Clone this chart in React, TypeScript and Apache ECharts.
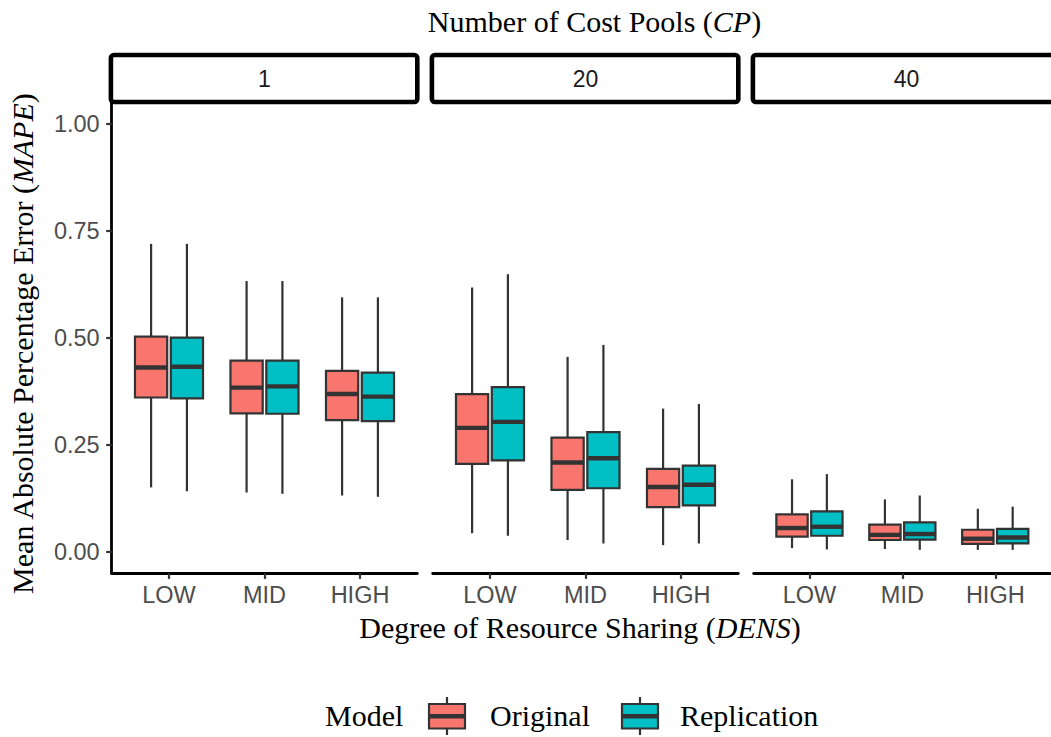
import React, { useEffect, useRef } from "react";
import * as echarts from "echarts";

// Facet levels, x categories and models
const cpLevels = ["1", "20", "40"];
const densLevels = ["LOW", "MID", "HIGH"];
const modelNames = ["Original", "Replication"];
const modelColors = ["#F8766D", "#00BFC4"];

// Box statistics per DENS level (LOW, MID, HIGH):
// [lower whisker, Q1, median, Q3, upper whisker]
const originalCP1 = [
  [0.151, 0.361, 0.431, 0.503, 0.72],
  [0.139, 0.324, 0.384, 0.447, 0.633],
  [0.132, 0.308, 0.369, 0.423, 0.595],
];
const replicationCP1 = [
  [0.142, 0.359, 0.433, 0.501, 0.72],
  [0.136, 0.323, 0.387, 0.447, 0.633],
  [0.129, 0.306, 0.363, 0.419, 0.595],
];
const originalCP20 = [
  [0.044, 0.206, 0.29, 0.369, 0.618],
  [0.028, 0.145, 0.209, 0.267, 0.456],
  [0.016, 0.105, 0.152, 0.194, 0.335],
];
const replicationCP20 = [
  [0.038, 0.214, 0.304, 0.385, 0.649],
  [0.02, 0.149, 0.219, 0.28, 0.484],
  [0.02, 0.109, 0.157, 0.202, 0.346],
];
const originalCP40 = [
  [0.009, 0.036, 0.056, 0.088, 0.17],
  [0.007, 0.028, 0.04, 0.064, 0.123],
  [0.005, 0.019, 0.031, 0.052, 0.101],
];
const replicationCP40 = [
  [0.006, 0.038, 0.059, 0.095, 0.182],
  [0.005, 0.029, 0.042, 0.069, 0.132],
  [0.005, 0.02, 0.034, 0.054, 0.106],
];

const yTicks = [0, 0.25, 0.5, 0.75, 1];

const panelStats = [
  [originalCP1, replicationCP1],
  [originalCP20, replicationCP20],
  [originalCP40, replicationCP40],
];

const SERIF = "'Liberation Serif', 'Times New Roman', serif";
const SANS = "'Liberation Sans', Arial, sans-serif";
const INK = "#333333";
const TITLE_SIZE = 30;

const PANEL_LEFT = [111.7, 432.7, 753.7];
const PANEL_TOP = 102.6;
const PANEL_W = 305.6;
const PANEL_H = 470.8;

const DODGE = 0.1875;
const BOX_HALF = 0.16875;

function makeRenderItem(offset: number, color: string) {
  return (_params: any, api: any) => {
    const x = api.value(0) + offset;
    const lo = api.value(1);
    const q1 = api.value(2);
    const med = api.value(3);
    const q3 = api.value(4);
    const hi = api.value(5);
    const tl = api.coord([x - BOX_HALF, q3]);
    const br = api.coord([x + BOX_HALF, q1]);
    const top = api.coord([x, hi]);
    const bot = api.coord([x, lo]);
    const mid = api.coord([x, med]);
    const cx = top[0];
    const lineStyle = { stroke: INK, lineWidth: 2.2, lineCap: "butt" };
    return {
      type: "group",
      children: [
        { type: "line", shape: { x1: cx, y1: top[1], x2: cx, y2: tl[1] }, style: lineStyle },
        { type: "line", shape: { x1: cx, y1: br[1], x2: cx, y2: bot[1] }, style: lineStyle },
        {
          type: "rect",
          shape: { x: tl[0], y: tl[1], width: br[0] - tl[0], height: br[1] - tl[1] },
          style: { fill: color, stroke: INK, lineWidth: 2.2 },
        },
        {
          type: "line",
          shape: { x1: tl[0], y1: mid[1], x2: br[0], y2: mid[1] },
          style: { stroke: INK, lineWidth: 4.4, lineCap: "butt" },
        },
      ],
    };
  };
}

function legendKey(cx: number, color: string) {
  return {
    type: "group",
    children: [
      { type: "line", shape: { x1: cx, y1: 697, x2: cx, y2: 735 }, style: { stroke: INK, lineWidth: 2.2 } },
      {
        type: "rect",
        shape: { x: cx - 18, y: 704, width: 36, height: 24.5 },
        style: { fill: color, stroke: INK, lineWidth: 2.2 },
      },
      { type: "line", shape: { x1: cx - 18, y1: 716.2, x2: cx + 18, y2: 716.2 }, style: { stroke: INK, lineWidth: 4.4 } },
    ],
  };
}

export default function App() {
  const ref = useRef<HTMLDivElement>(null);

  useEffect(() => {
    if (!ref.current) return;
    const chart = echarts.init(ref.current, undefined, { renderer: "svg" });

    const grids = cpLevels.map((_, i) => ({
      left: PANEL_LEFT[i],
      top: PANEL_TOP,
      width: PANEL_W,
      height: PANEL_H,
      containLabel: false,
    }));

    const xAxes = cpLevels.map((_, i) => ({
      type: "value",
      gridIndex: i,
      min: 0.4,
      max: 3.6,
      splitLine: { show: false },
      axisLine: { show: true, onZero: false, lineStyle: { color: "#000000", width: 2.8 } },
      axisTick: {
        show: true,
        customValues: [1, 2, 3],
        length: 5.5,
        lineStyle: { color: INK, width: 2.2 },
      },
      axisLabel: {
        show: true,
        customValues: [1, 2, 3],
        margin: 10,
        color: "#4d4d4d",
        fontFamily: SANS,
        fontSize: 23.5,
        formatter: (v: number) => densLevels[Math.round(v) - 1] ?? "",
      },
    }));

    const yAxes = cpLevels.map((_, i) => ({
      type: "value",
      gridIndex: i,
      min: -0.05,
      max: 1.05,
      splitLine: { show: false },
      axisLine: { show: i === 0, onZero: false, lineStyle: { color: "#000000", width: 2.8 } },
      axisTick: {
        show: i === 0,
        customValues: yTicks,
        length: 5.5,
        lineStyle: { color: INK, width: 2.2 },
      },
      axisLabel: {
        show: i === 0,
        customValues: yTicks,
        margin: 12,
        color: "#4d4d4d",
        fontFamily: SANS,
        fontSize: 23.5,
        formatter: (v: number) => v.toFixed(2),
      },
    }));

    const series: any[] = [];
    panelStats.forEach((pair, p) => {
      pair.forEach((stats, m) => {
        series.push({
          type: "custom",
          name: modelNames[m],
          xAxisIndex: p,
          yAxisIndex: p,
          encode: { x: 0, y: [1, 2, 3, 4, 5] },
          renderItem: makeRenderItem(m === 0 ? -DODGE : DODGE, modelColors[m]),
          data: stats.map((s, k) => [k + 1, ...s]),
        });
      });
    });

    const strips = cpLevels.map((label, i) => ({
      type: "group",
      children: [
        {
          type: "rect",
          shape: { x: PANEL_LEFT[i] - 0.8, y: 55, width: PANEL_W + 0.8, height: 47, r: 3 },
          style: { fill: "#ffffff", stroke: "#000000", lineWidth: 4.6 },
        },
        {
          type: "text",
          x: PANEL_LEFT[i] + PANEL_W / 2,
          y: 79,
          style: {
            text: label,
            fontFamily: SANS,
            fontSize: 23,
            fill: "#1a1a1a",
            align: "center",
            verticalAlign: "middle",
          },
        },
      ],
    }));

    const richSerif = (italicKey: string) => ({
      n: { fontFamily: SERIF, fontSize: TITLE_SIZE, fill: "#000000" },
      [italicKey]: { fontFamily: SERIF, fontSize: TITLE_SIZE, fontStyle: "italic", fill: "#000000" },
    });

    const plainSerif = (text: string, x: number) => ({
      type: "text",
      x,
      y: 715,
      style: {
        text,
        fontFamily: SERIF,
        fontSize: TITLE_SIZE,
        fill: "#000000",
        align: "left",
        verticalAlign: "middle",
      },
    });

    const graphics: any[] = [
      ...strips,
      {
        type: "text",
        x: 594.5,
        y: 21,
        style: {
          text: "{n|Number of Cost Pools (}{i|CP}{n|)}",
          rich: richSerif("i"),
          align: "center",
          verticalAlign: "middle",
        },
      },
      {
        type: "text",
        x: 580,
        y: 627,
        style: {
          text: "{n|Degree of Resource Sharing (}{i|DENS}{n|)}",
          rich: richSerif("i"),
          align: "center",
          verticalAlign: "middle",
        },
      },
      {
        type: "text",
        x: 22,
        y: 344,
        rotation: Math.PI / 2,
        style: {
          text: "{n|Mean Absolute Percentage Error (}{i|MAPE}{n|)}",
          rich: richSerif("i"),
          align: "center",
          verticalAlign: "middle",
        },
      },
      plainSerif("Model", 325),
      legendKey(447, modelColors[0]),
      plainSerif(modelNames[0], 490),
      legendKey(640, modelColors[1]),
      plainSerif(modelNames[1], 680),
    ];

    chart.setOption({
      animation: false,
      backgroundColor: "#ffffff",
      grid: grids,
      xAxis: xAxes,
      yAxis: yAxes,
      series,
      graphic: graphics,
    });

    return () => {
      chart.dispose();
    };
  }, []);

  return (
    <div
      ref={ref}
      style={{ position: "fixed", left: 0, top: 0, width: 1051, height: 737 }}
    />
  );
}
